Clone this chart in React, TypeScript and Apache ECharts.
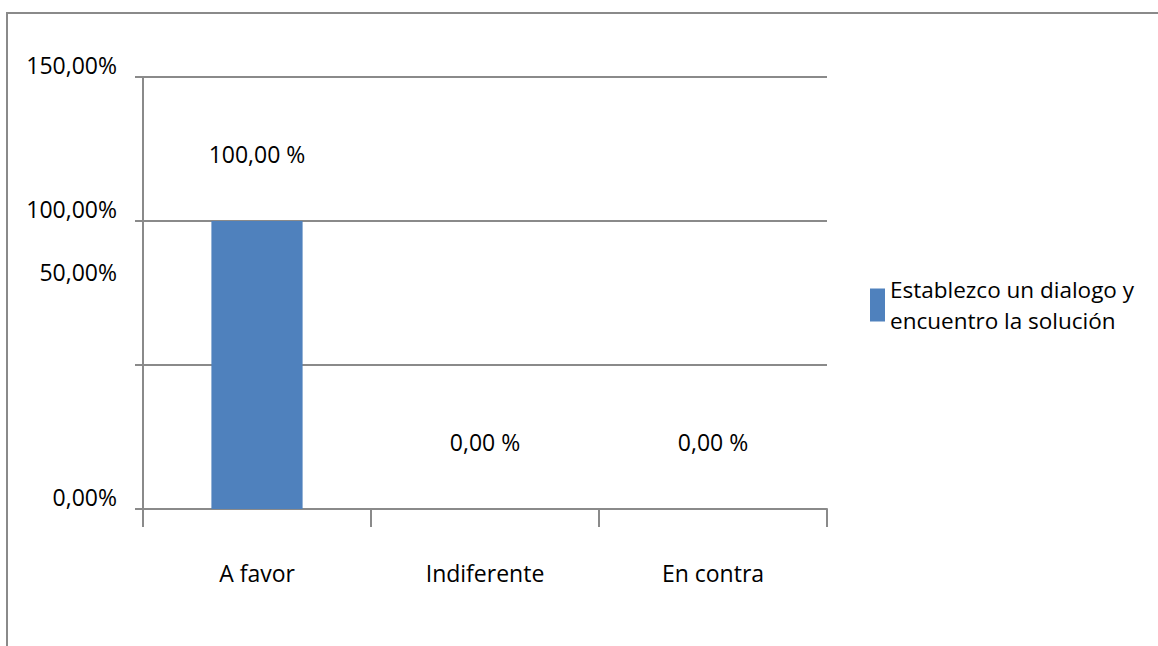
import React, { useEffect, useRef } from "react";
import * as echarts from "echarts";

const categories = ["A favor", "Indiferente", "En contra"];
const values = [100, 0, 0];
const seriesName = "Establezco un dialogo y\nencuentro la solución";
const yTickLabels: Record<number, string> = { 0: "0,00%", 50: "50,00%", 100: "100,00%", 150: "150,00%" };
const valueLabels = ["100,00 %", "0,00 %", "0,00 %"];

const FONT = "'Open Sans', sans-serif";
const GRAY = "#8a8a8a";
const FS = 23;

export default function App() {
  const ref = useRef<HTMLDivElement>(null);
  useEffect(() => {
    if (!ref.current) return;
    const chart = echarts.init(ref.current, undefined, { renderer: "svg" });
    chart.setOption({
      animation: false,
      backgroundColor: "#ffffff",
      textStyle: { fontFamily: FONT },
      graphic: [
        {
          type: "rect",
          shape: { x: 7, y: 13, width: 1300, height: 800 },
          style: { fill: "none", stroke: GRAY, lineWidth: 2 },
          silent: true,
        },
      ],
      grid: { left: 143, right: 331, top: 77, bottom: 137, containLabel: false },
      legend: {
        orient: "vertical",
        left: 865,
        top: 269,
        icon: "rect",
        itemWidth: 15,
        itemHeight: 33,
        itemGap: 0,
        textStyle: { fontFamily: FONT, fontSize: 22.5, color: "#000", lineHeight: 31 },
        data: [seriesName],
      },
      xAxis: {
        type: "category",
        data: categories,
        axisLine: { lineStyle: { color: GRAY, width: 2 } },
        axisTick: { show: true, length: 18, lineStyle: { color: GRAY, width: 2 } },
        axisLabel: { margin: 52, fontSize: FS, color: "#000", fontFamily: FONT },
      },
      yAxis: {
        type: "value",
        min: 0,
        max: 150,
        interval: 50,
        axisLine: { show: true, lineStyle: { color: GRAY, width: 2 } },
        axisTick: { show: true, length: 8, lineStyle: { color: GRAY, width: 2 } },
        splitLine: { show: true, lineStyle: { color: GRAY, width: 2 } },
        axisLabel: {
          margin: 26,
          fontSize: FS,
          color: "#000",
          fontFamily: FONT,
          formatter: (v: number) => (v === 50 ? `{b|${yTickLabels[v]}}` : `{a|${yTickLabels[v] ?? ""}}`),
          rich: {
            a: { fontSize: FS, color: "#000", fontFamily: FONT, padding: [0, 0, 24, 0] },
            b: { fontSize: FS, color: "#000", fontFamily: FONT, padding: [0, 0, 186, 0] },
          },
        },
      },
      series: [
        {
          name: seriesName,
          type: "bar",
          data: values,
          barWidth: "40%",
          itemStyle: { color: "#4F81BD" },
          label: {
            show: true,
            position: "top",
            distance: 56,
            fontSize: FS,
            color: "#000",
            fontFamily: FONT,
            formatter: (p: any) => valueLabels[p.dataIndex],
          },
        },
      ],
    });
    return () => chart.dispose();
  }, []);
  return <div ref={ref} style={{ position: "absolute", left: 0, top: 0, width: 1158, height: 646 }} />;
}
